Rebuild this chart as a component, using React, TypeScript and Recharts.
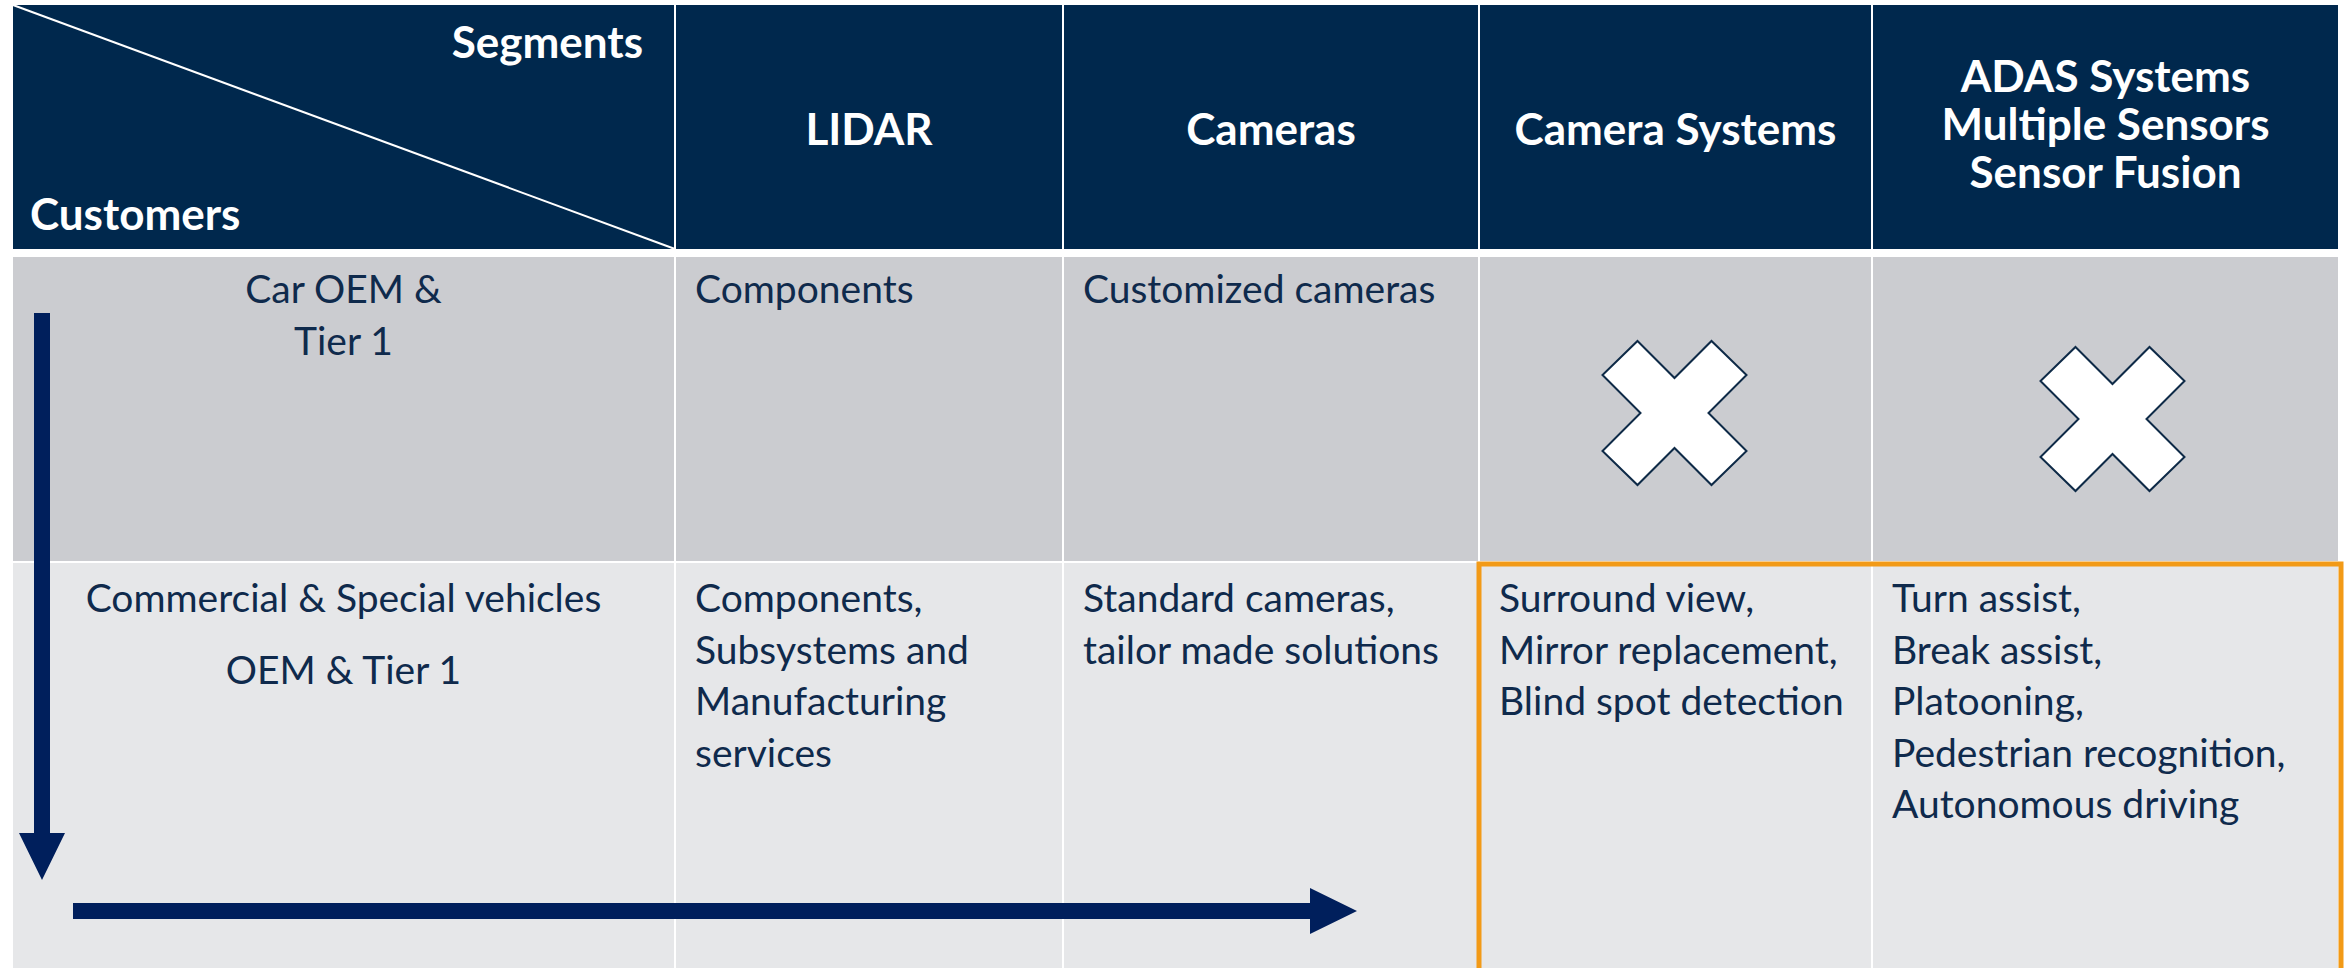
import React from 'react';
import { ComposedChart, XAxis, YAxis, ReferenceArea, ReferenceLine, Scatter } from 'recharts';

// table content
const cornerLabels = ['Segments', 'Customers'];
const segments = [
  ['LIDAR'],
  ['Cameras'],
  ['Camera Systems'],
  ['ADAS Systems', 'Multiple Sensors', 'Sensor Fusion'],
];
const customers = [
  ['Car OEM &', 'Tier 1'],
  ['Commercial & Special vehicles', 'OEM & Tier 1'],
];
// null = segment not served (drawn as a cross)
const carOemOffers: (string[] | null)[] = [['Components'], ['Customized cameras'], null, null];
const commercialOffers: (string[] | null)[] = [
  ['Components,', 'Subsystems and', 'Manufacturing', 'services'],
  ['Standard cameras,', 'tailor made solutions'],
  ['Surround view,', 'Mirror replacement,', 'Blind spot detection'],
  ['Turn assist,', 'Break assist,', 'Platooning,', 'Pedestrian recognition,', 'Autonomous driving'],
];
const highlighted = [2, 3]; // segment columns framed in the commercial row

// layout
const W = 2352;
const H = 968;
const COL_EDGES = [13, 675, 1063, 1479, 1872, 2339];
const HEAD = [5, 249];
const ROWS = [[257, 561], [563, 968]];
const ROW_FIRST = [46, 49];
const CUSTOMER_STEP = [52, 72];
const LINE = 51.5;
const CROSS_NUDGE: Record<number, [number, number]> = { 2: [-1, 4], 3: [7, 10] };

const NAVY = '#00284D';
const TEXT = '#0F2A4C';
const ARROW = '#001F5C';
const FONT = 'Lato, "Open Sans", sans-serif';
const HEAD_SIZE = 44;
const BODY_SIZE = 39;

function CellText(props: any) {
  const { viewBox, lines, align, first, step, size, weight, color, pad } = props;
  if (!viewBox) return null;
  const { x, y, width } = viewBox;
  const tx = align === 'center' ? x + width / 2 : align === 'right' ? x + width - pad : x + pad;
  const anchor = align === 'center' ? 'middle' : align === 'right' ? 'end' : 'start';
  return (
    <text x={tx} textAnchor={anchor} fontFamily={FONT} fontSize={size} fontWeight={weight} fill={color}>
      {lines.map((l: string, i: number) => (
        <tspan key={i} x={tx} y={y + first + i * step}>{l}</tspan>
      ))}
    </text>
  );
}

function Arrow(props: any) {
  const { x1, y1, x2, y2 } = props;
  const len = Math.hypot(x2 - x1, y2 - y1);
  const ux = (x2 - x1) / len;
  const uy = (y2 - y1) / len;
  const nx = -uy;
  const ny = ux;
  const sw = 8;
  const hw = 23;
  const hl = 47;
  const bx = x2 - ux * hl;
  const by = y2 - uy * hl;
  const pts = [
    [x1 + nx * sw, y1 + ny * sw],
    [bx + nx * sw, by + ny * sw],
    [bx + nx * hw, by + ny * hw],
    [x2, y2],
    [bx - nx * hw, by - ny * hw],
    [bx - nx * sw, by - ny * sw],
    [x1 - nx * sw, y1 - ny * sw],
  ];
  return <polygon points={pts.map((p) => p.join(',')).join(' ')} fill={ARROW} />;
}

const CROSS = [
  [-37, -72], [0, -35], [37, -72], [72, -38], [34, 0], [72, 38],
  [37, 72], [0, 35], [-37, 72], [-72, 38], [-34, 0], [-72, -38],
];

function Cross(props: any) {
  const { cx, cy } = props;
  return (
    <polygon
      points={CROSS.map(([dx, dy]) => `${cx + dx},${cy + dy}`).join(' ')}
      fill="#ffffff"
      stroke="#0E2A47"
      strokeWidth={2}
    />
  );
}

const bodyRows = [carOemOffers, commercialOffers];

const crosses = bodyRows.flatMap((row, r) =>
  row
    .map((cell, c) => ({ cell, c }))
    .filter((d) => d.cell === null)
    .map(({ c }) => {
      const nudge = CROSS_NUDGE[c] || [0, 0];
      return {
        x: (COL_EDGES[c + 1] + COL_EDGES[c + 2]) / 2 + nudge[0],
        y: (ROWS[r][0] + ROWS[r][1]) / 2 + nudge[1],
      };
    })
);

export default function App() {
  return (
    <div style={{ position: 'absolute', left: 0, top: 0, background: '#fff' }}>
      <ComposedChart width={W} height={H} margin={{ top: 0, right: 0, bottom: 0, left: 0 }}>
        <XAxis type="number" dataKey="x" domain={[0, W]} hide allowDataOverflow />
        <YAxis type="number" dataKey="y" domain={[0, H]} reversed hide allowDataOverflow />

        {/* corner header cell */}
        <ReferenceArea
          x1={COL_EDGES[0]} x2={COL_EDGES[1] - 1} y1={HEAD[0]} y2={HEAD[1]}
          fill={NAVY} fillOpacity={1} stroke="none" ifOverflow="visible"
          label={<CellText lines={[cornerLabels[0]]} align="right" first={53} step={48} size={HEAD_SIZE} weight={700} color="#fff" pad={31} />}
        />
        <ReferenceArea
          x1={COL_EDGES[0]} x2={COL_EDGES[1] - 1} y1={HEAD[0]} y2={HEAD[1]}
          fill="none" stroke="none" ifOverflow="visible"
          label={<CellText lines={[cornerLabels[1]]} align="left" first={225} step={48} size={HEAD_SIZE} weight={700} color="#fff" pad={17} />}
        />

        {/* segment header cells */}
        {segments.map((lines, i) => (
          <ReferenceArea
            key={`h${i}`}
            x1={COL_EDGES[i + 1] + 1} x2={COL_EDGES[i + 2] - 1} y1={HEAD[0]} y2={HEAD[1]}
            fill={NAVY} fillOpacity={1} stroke="none" ifOverflow="visible"
            label={<CellText lines={lines} align="center" first={140 - (lines.length - 1) * 26.5} step={48} size={HEAD_SIZE} weight={700} color="#fff" pad={0} />}
          />
        ))}

        {/* customer cells */}
        {customers.map((lines, r) => (
          <ReferenceArea
            key={`c${r}`}
            x1={COL_EDGES[0]} x2={COL_EDGES[1] - 1} y1={ROWS[r][0]} y2={ROWS[r][1]}
            fill={r === 0 ? '#CBCCD0' : '#E6E7E9'} fillOpacity={1} stroke="none" ifOverflow="visible"
            label={<CellText lines={lines} align="center" first={ROW_FIRST[r]} step={CUSTOMER_STEP[r]} size={BODY_SIZE} weight={400} color={TEXT} pad={0} />}
          />
        ))}

        {/* offer cells */}
        {bodyRows.map((row, r) =>
          row.map((lines, c) => (
            <ReferenceArea
              key={`b${r}-${c}`}
              x1={COL_EDGES[c + 1] + 1} x2={COL_EDGES[c + 2] - 1} y1={ROWS[r][0]} y2={ROWS[r][1]}
              fill={r === 0 ? '#CBCCD0' : '#E6E7E9'} fillOpacity={1} stroke="none" ifOverflow="visible"
              label={lines ? <CellText lines={lines} align="left" first={ROW_FIRST[r]} step={LINE} size={BODY_SIZE} weight={400} color={TEXT} pad={19} /> : undefined}
            />
          ))
        )}

        {/* highlight frame */}
        <ReferenceArea
          x1={COL_EDGES[highlighted[0] + 1]} x2={COL_EDGES[highlighted[highlighted.length - 1] + 2] + 2}
          y1={ROWS[1][0] + 1} y2={H + 10}
          fill="none" stroke="#F29A17" strokeWidth={5} ifOverflow="visible"
        />

        {/* corner diagonal */}
        <ReferenceLine
          segment={[{ x: COL_EDGES[0], y: HEAD[0] }, { x: COL_EDGES[1], y: HEAD[1] }]}
          stroke="#ffffff" strokeWidth={2} ifOverflow="visible"
        />

        {/* direction arrows */}
        <ReferenceLine segment={[{ x: 42, y: 313 }, { x: 42, y: 880 }]} ifOverflow="visible" shape={Arrow} />
        <ReferenceLine segment={[{ x: 73, y: 911 }, { x: 1357, y: 911 }]} ifOverflow="visible" shape={Arrow} />

        <Scatter data={crosses} shape={Cross} isAnimationActive={false} />
      </ComposedChart>
    </div>
  );
}
